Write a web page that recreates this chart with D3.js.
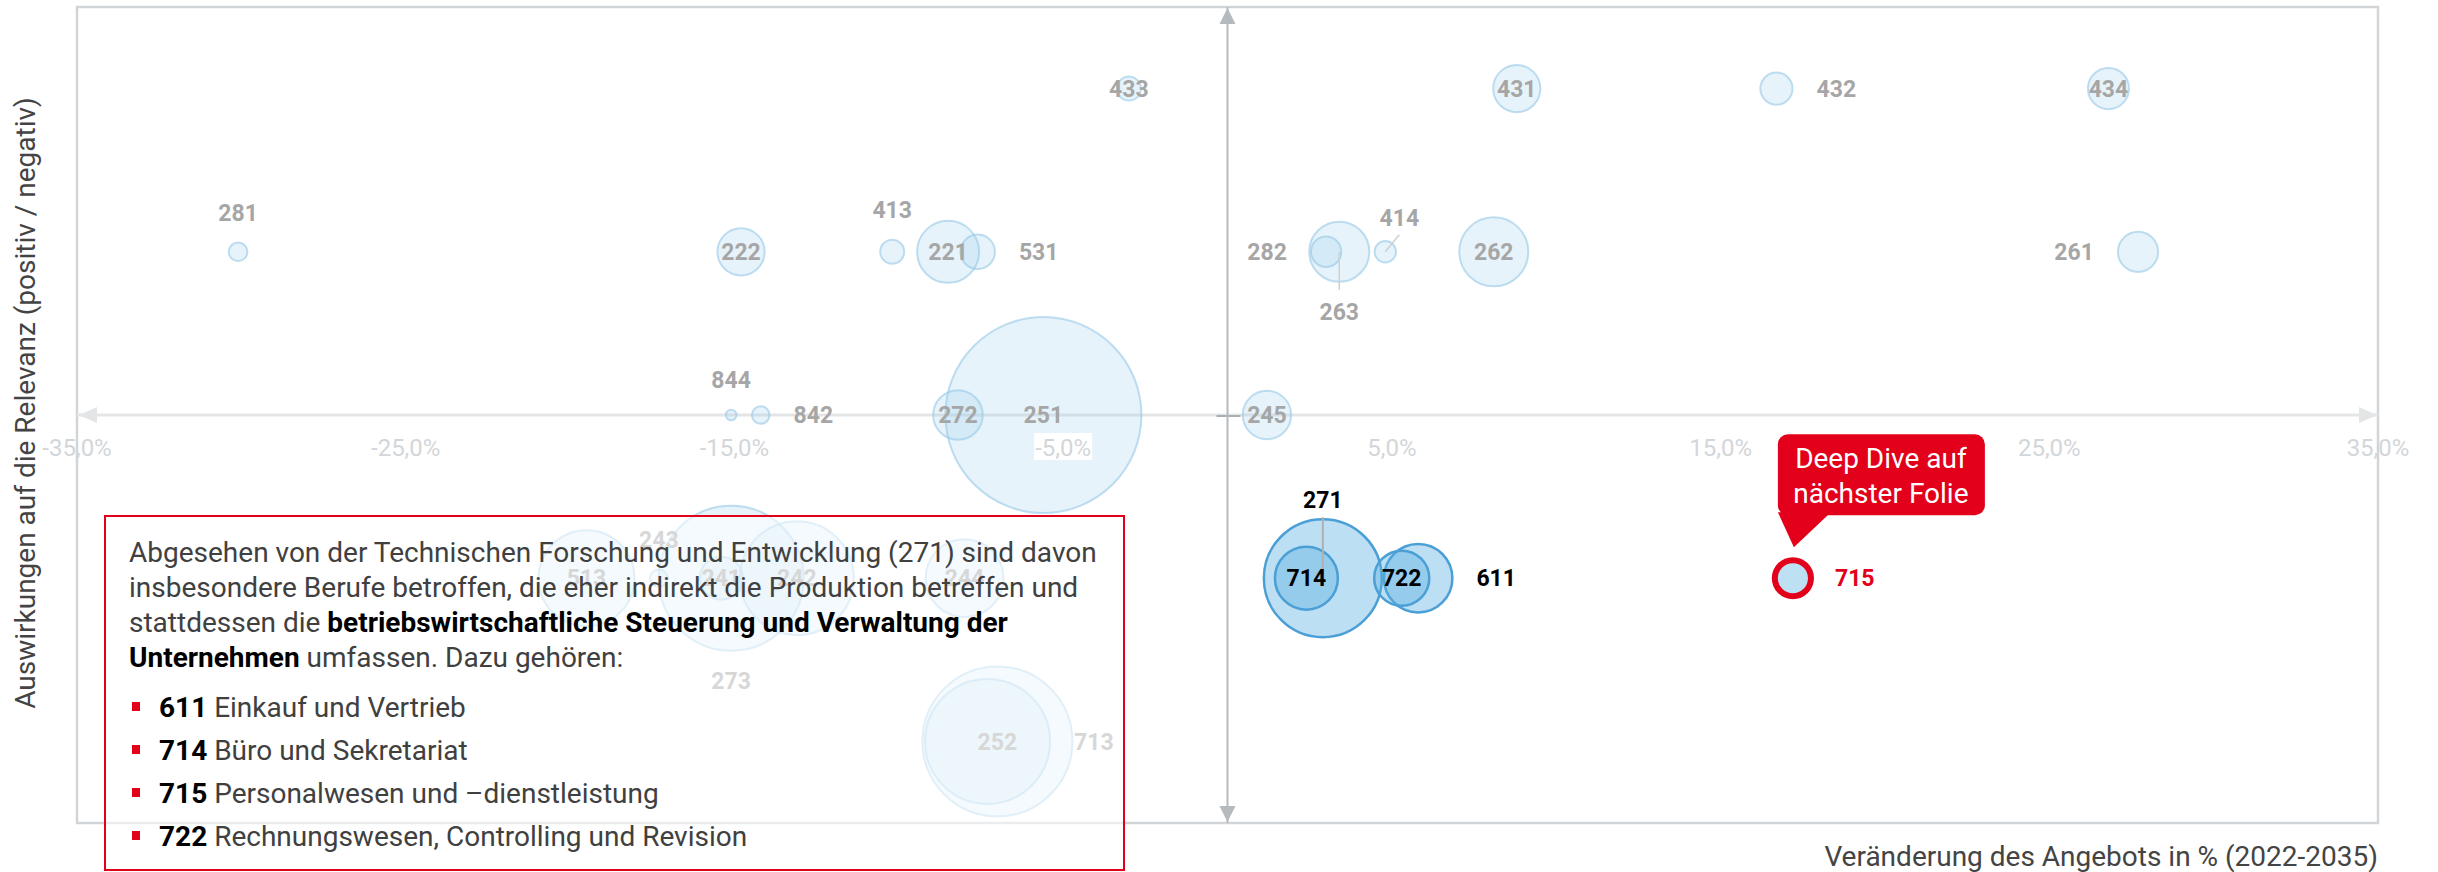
<!DOCTYPE html>
<html>
<head>
<meta charset="utf-8">
<script src="https://cdn.jsdelivr.net/npm/d3@7"></script>
<style>
  body { margin: 0; background: #fff; }
  svg { display: block; font-family: Roboto, "Noto Sans", sans-serif; }
  .frame { fill: none; stroke: #d2d5d8; stroke-width: 2.5; }
  .hline { stroke: #e4e5e6; stroke-width: 3; }
  .vline { stroke: #b5babe; stroke-width: 2; }
  .tick-text { fill: #d3d6d9; font-size: 24px; }
  .bubble { fill: rgb(155,205,235); fill-opacity: 0.24; stroke: rgb(150,200,232); stroke-opacity: 0.6; stroke-width: 2; }
  .bubble.hi { fill: rgb(90,175,225); fill-opacity: 0.4; stroke: #4a9fd6; stroke-opacity: 1; stroke-width: 2.5; }
  .bubble.focus { fill: #bde0f3; fill-opacity: 1; stroke: #e2001a; stroke-opacity: 1; stroke-width: 6; }
  .lab { font-size: 23px; font-weight: bold; fill: #a6a6a6; }
  .lab.hi { fill: #000; }
  .lab.focus { fill: #e2001a; }
  .leader { stroke: #cfcfcf; stroke-width: 1.5; }
  .leader.hi { stroke: #b0b0b0; stroke-width: 2; }
  .title { fill: #444; font-size: 28px; }
  .box-text { fill: #404040; font-size: 28px; }
  .box-text .b { font-weight: bold; fill: #000; }
</style>
</head>
<body>
<div id="chart"></div>
<script>
var widthGlobal = 2438,
    heightGlobal = 872,
    margin = {top: 7, right: 60, bottom: 49, left: 77};

// occupational groups (KldB codes)
var codes     = ["433", "431", "432", "434", "281", "222", "413", "221", "531", "282", "263", "414", "262", "261",
                 "844", "842", "272", "251", "245", "513", "243", "241", "273", "242", "244", "271", "714", "722",
                 "611", "715", "252", "713"];
// change of supply in % (2022-2035)
var change    = [-3.0, 8.8, 16.7, 26.8, -30.1, -14.8, -10.2, -8.5, -7.6, 3.0, 3.4, 4.8, 8.1, 27.7,
                 -15.1, -14.2, -8.2, -5.6, 1.2, -19.5, -17.3, -15.4, -15.1, -13.1, -8.0, 2.9, 2.4, 5.3,
                 5.8, 17.2, -7.0, -7.3];
// effect on relevance (positive / negative)
var relevance = [2, 2, 2, 2, 1, 1, 1, 1, 1, 1, 1, 1, 1, 1,
                 0, 0, 0, 0, 0, -1, -1, -1, -1, -1, -1, -1, -1, -1,
                 -1, -1, -2, -2];
// bubble size (relative employment)
var size      = [15, 58, 27, 44, 9, 58, 15, 100, 31, 24, 94, 12, 124, 42,
                 3, 8, 64, 1000, 61, 240, 8, 48, 547, 338, 158, 362, 103, 79,
                 122, 34, 586, 407];
// where the code label sits: c centre, l left, r right, t top, b bottom
var labelPos  = ["c", "c", "r", "c", "t", "c", "t", "c", "r", "l", "b", "t", "c", "l",
                 "t", "r", "c", "c", "c", "c", "t", "c", "b", "c", "c", "t", "c", "c",
                 "r", "r", "c", "r"];
var highlight = ["271", "714", "722", "611"],
    focusCode = "715";

var xTicks = [-35, -25, -15, -5, 5, 15, 25, 35];

var boxLines = [
    [["Abgesehen von der Technischen Forschung und Entwicklung (271) sind davon", false]],
    [["insbesondere Berufe betroffen, die eher indirekt die Produktion betreffen und", false]],
    [["stattdessen die ", false], ["betriebswirtschaftliche Steuerung und Verwaltung der", true]],
    [["Unternehmen", true], [" umfassen. Dazu gehören:", false]]
];
var bulletCodes = ["611", "714", "715", "722"],
    bulletNames = ["Einkauf und Vertrieb", "Büro und Sekretariat", "Personalwesen und –dienstleistung",
                   "Rechnungswesen, Controlling und Revision"];

var items = codes.map(function (c, i) {
    return {code: c, x: change[i], y: relevance[i], size: size[i], pos: labelPos[i]};
});

var x = d3.scaleLinear()
        .domain([-35, 35])
        .range([margin.left, widthGlobal - margin.right]),
    y = d3.scaleLinear()
        .domain([-2.5, 2.5])
        .range([heightGlobal - margin.bottom, margin.top]),
    r = d3.scaleSqrt()
        .domain([0, 1000])
        .range([0, 98]);

var de = d3.formatLocale({decimal: ",", thousands: ".", grouping: [3], currency: ["", " €"], minus: "-"}),
    fmt = de.format(".1f");

var svg = d3.select("#chart")
    .append("svg")
    .attr("width", widthGlobal)
    .attr("height", heightGlobal);

function cls(d) {
    if (d.code === focusCode) { return "focus"; }
    return highlight.indexOf(d.code) >= 0 ? "hi" : "";
}

// frame
svg.append("rect")
    .attr("class", "frame")
    .attr("x", x.range()[0])
    .attr("y", y.range()[1])
    .attr("width", x.range()[1] - x.range()[0])
    .attr("height", y.range()[0] - y.range()[1]);

// horizontal axis with arrows
var y0 = y(0), x0 = x(0);
svg.append("line")
    .attr("class", "hline")
    .attr("x1", x.range()[0]).attr("x2", x.range()[1])
    .attr("y1", y0).attr("y2", y0);
svg.append("path")
    .attr("fill", "#e4e5e6")
    .attr("d", "M" + (x.range()[0] + 2) + "," + y0 + "l18,-8v16z" +
               "M" + (x.range()[1] - 1) + "," + y0 + "l-18,-8v16z");
svg.append("line")
    .attr("stroke", "#a9aeb2").attr("stroke-width", 2)
    .attr("x1", x0 - 11).attr("x2", x0 + 13)
    .attr("y1", y0 + 1).attr("y2", y0 + 1);

// vertical axis with arrows
svg.append("line")
    .attr("class", "vline")
    .attr("x1", x0).attr("x2", x0)
    .attr("y1", y.range()[1]).attr("y2", y.range()[0]);
svg.append("path")
    .attr("fill", "#b5babe")
    .attr("d", "M" + x0 + "," + (y.range()[1] + 1) + "l-8,16h16z" +
               "M" + x0 + "," + (y.range()[0] - 1) + "l-8,-16h16z");

// bubbles
var sorted = items.slice().sort(function (a, b) { return b.size - a.size; });
svg.append("g").selectAll(".bubble")
    .data(sorted)
    .enter().append("circle")
    .attr("class", function (d) { return "bubble " + cls(d); })
    .attr("cx", function (d) { return x(d.x); })
    .attr("cy", function (d) { return y(d.y); })
    .attr("r", function (d) { return r(d.size); });

// leader lines
function byCode(c) { return items.filter(function (d) { return d.code === c; })[0]; }
var l263 = byCode("263"), l414 = byCode("414"), l271 = byCode("271");
svg.append("line").attr("class", "leader")
    .attr("x1", x(l263.x)).attr("y1", y(l263.y))
    .attr("x2", x(l263.x)).attr("y2", y(l263.y) + r(l263.size) + 8);
svg.append("line").attr("class", "leader")
    .attr("x1", x(l414.x)).attr("y1", y(l414.y))
    .attr("x2", x(l414.x) + 14).attr("y2", y(l414.y) - 17);
svg.append("line").attr("class", "leader hi")
    .attr("x1", x(l271.x)).attr("y1", y(l271.y) - 8)
    .attr("x2", x(l271.x)).attr("y2", y(l271.y) - r(l271.size) - 2);

// labels
function labX(d) {
    var cx = x(d.x), rr = r(d.size);
    if (d.pos === "r") { return cx + rr + 24; }
    if (d.pos === "l") { return cx - rr - 24; }
    if (d.code === "414") { return cx + 14; }
    return cx;
}
function labY(d) {
    var cy = y(d.y), rr = r(d.size);
    if (d.code === "414") { return cy - 34; }
    if (d.code === "271") { return cy - rr - 20; }
    if (d.pos === "t") { return cy - rr - 30; }
    if (d.pos === "b") { return cy + rr + 30; }
    return cy;
}
svg.append("g").selectAll(".lab")
    .data(items)
    .enter().append("text")
    .attr("class", function (d) { return "lab " + cls(d); })
    .attr("x", labX)
    .attr("y", labY)
    .attr("dy", "0.36em")
    .attr("text-anchor", function (d) { return d.pos === "r" ? "start" : (d.pos === "l" ? "end" : "middle"); })
    .text(function (d) { return d.code; });

// x tick labels with white backing
var ticks = svg.append("g").selectAll(".tick")
    .data(xTicks)
    .enter().append("g")
    .attr("transform", function (d) { return "translate(" + x(d) + "," + (y0 + 32) + ")"; });
ticks.append("rect")
    .attr("x", -29).attr("y", -14).attr("width", 58).attr("height", 27)
    .attr("fill", function (d) { return (d === -35 || d === 35) ? "none" : "#fff"; });
ticks.append("text")
    .attr("class", "tick-text")
    .attr("text-anchor", "middle")
    .attr("dy", "0.36em")
    .text(function (d) { return fmt(d) + "%"; });

// axis titles
svg.append("text")
    .attr("class", "title")
    .attr("text-anchor", "end")
    .attr("x", x.range()[1])
    .attr("y", 866)
    .text("Veränderung des Angebots in % (2022-2035)");
svg.append("text")
    .attr("class", "title")
    .attr("fill", "#595959")
    .attr("font-size", "26.5px")
    .attr("text-anchor", "middle")
    .attr("transform", "translate(35," + (y0 - 12) + ") rotate(-90)")
    .text("Auswirkungen auf die Relevanz (positiv / negativ)");

// callout for the deep dive
var f = byCode(focusCode), fx = x(f.x), fy = y(f.y);
var call = svg.append("g");
call.append("rect")
    .attr("x", fx - 15).attr("y", fy - 144)
    .attr("width", 207).attr("height", 81)
    .attr("rx", 10)
    .attr("fill", "#e2001a");
call.append("path")
    .attr("fill", "#e2001a")
    .attr("d", "M" + (fx - 15) + "," + (fy - 66) + "L" + (fx + 1) + "," + (fy - 31) +
               "L" + (fx + 38) + "," + (fy - 66) + "Z");
call.selectAll("text")
    .data(["Deep Dive auf", "nächster Folie"])
    .enter().append("text")
    .attr("x", fx + 88)
    .attr("y", function (d, i) { return fy - 110 + i * 35; })
    .attr("text-anchor", "middle")
    .attr("fill", "#fff")
    .attr("font-size", "28px")
    .text(function (d) { return d; });

// text box
var box = svg.append("g");
box.append("rect")
    .attr("x", 105).attr("y", 516)
    .attr("width", 1019).attr("height", 354)
    .attr("fill", "#fff").attr("fill-opacity", 0.55)
    .attr("stroke", "#e2001a").attr("stroke-width", 2);
boxLines.forEach(function (line, i) {
    var t = box.append("text")
        .attr("class", "box-text")
        .attr("x", 129)
        .attr("y", 562 + i * 35);
    line.forEach(function (part) {
        t.append("tspan")
            .attr("class", part[1] ? "b" : null)
            .text(part[0]);
    });
});
bulletCodes.forEach(function (c, i) {
    var by = 717 + i * 43;
    box.append("rect")
        .attr("x", 132).attr("y", by - 15)
        .attr("width", 8).attr("height", 9)
        .attr("fill", "#e2001a");
    var t = box.append("text")
        .attr("class", "box-text")
        .attr("x", 159)
        .attr("y", by);
    t.append("tspan").attr("class", "b").text(c);
    t.append("tspan").text(" " + bulletNames[i]);
});
</script>
</body>
</html>
